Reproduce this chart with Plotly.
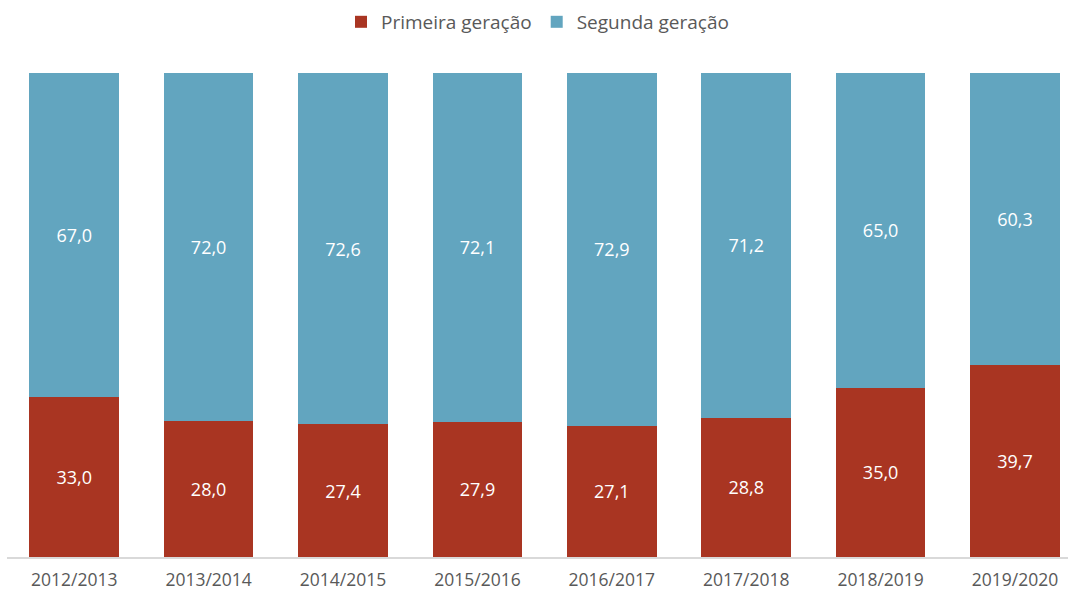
import plotly.graph_objects as go

categories = ["2012/2013", "2013/2014", "2014/2015", "2015/2016", "2016/2017", "2017/2018", "2018/2019", "2019/2020"]
primeira = [33.0, 28.0, 27.4, 27.9, 27.1, 28.8, 35.0, 39.7]
segunda = [67.0, 72.0, 72.6, 72.1, 72.9, 71.2, 65.0, 60.3]

FONT = "Open Sans"
fig = go.Figure()
fig.add_trace(go.Bar(x=categories, y=primeira, name="Primeira geração",
                     marker=dict(color="#A93522", line=dict(width=0)),
                     texttemplate="%{y:.1f}", textposition="inside", insidetextanchor="middle",
                     textfont=dict(color="white", size=18, family=FONT)))
fig.add_trace(go.Bar(x=categories, y=segunda, name="Segunda geração",
                     marker=dict(color="#62A5BF", line=dict(width=0)),
                     texttemplate="%{y:.1f}", textposition="inside", insidetextanchor="middle",
                     textfont=dict(color="white", size=18, family=FONT)))
fig.update_layout(
    barmode="stack", bargap=0.334, separators=",.",
    width=1068, height=590, paper_bgcolor="white", plot_bgcolor="white",
    margin=dict(l=7, r=0, t=73, b=33, autoexpand=False),
    font=dict(family=FONT, color="#595959"),
    showlegend=True,
    legend=dict(orientation="h", x=0.5, xanchor="center", y=0.995, yanchor="top",
                yref="container", font=dict(size=19, color="#595959"),
                itemwidth=30, traceorder="normal"),
    xaxis=dict(showline=True, linecolor="#D9D9D9", linewidth=2, tickfont=dict(size=17.5, color="#595959"),
               ticks="", showgrid=False, range=[-0.5, 7.394], ticklabelstandoff=6),
    yaxis=dict(range=[0, 100], visible=False, showgrid=False),
    uniformtext=dict(mode=False),
)
fig.write_html("out.html", config={"displayModeBar": False},
               post_script="document.body.style.margin='0';document.body.style.padding='0';")
